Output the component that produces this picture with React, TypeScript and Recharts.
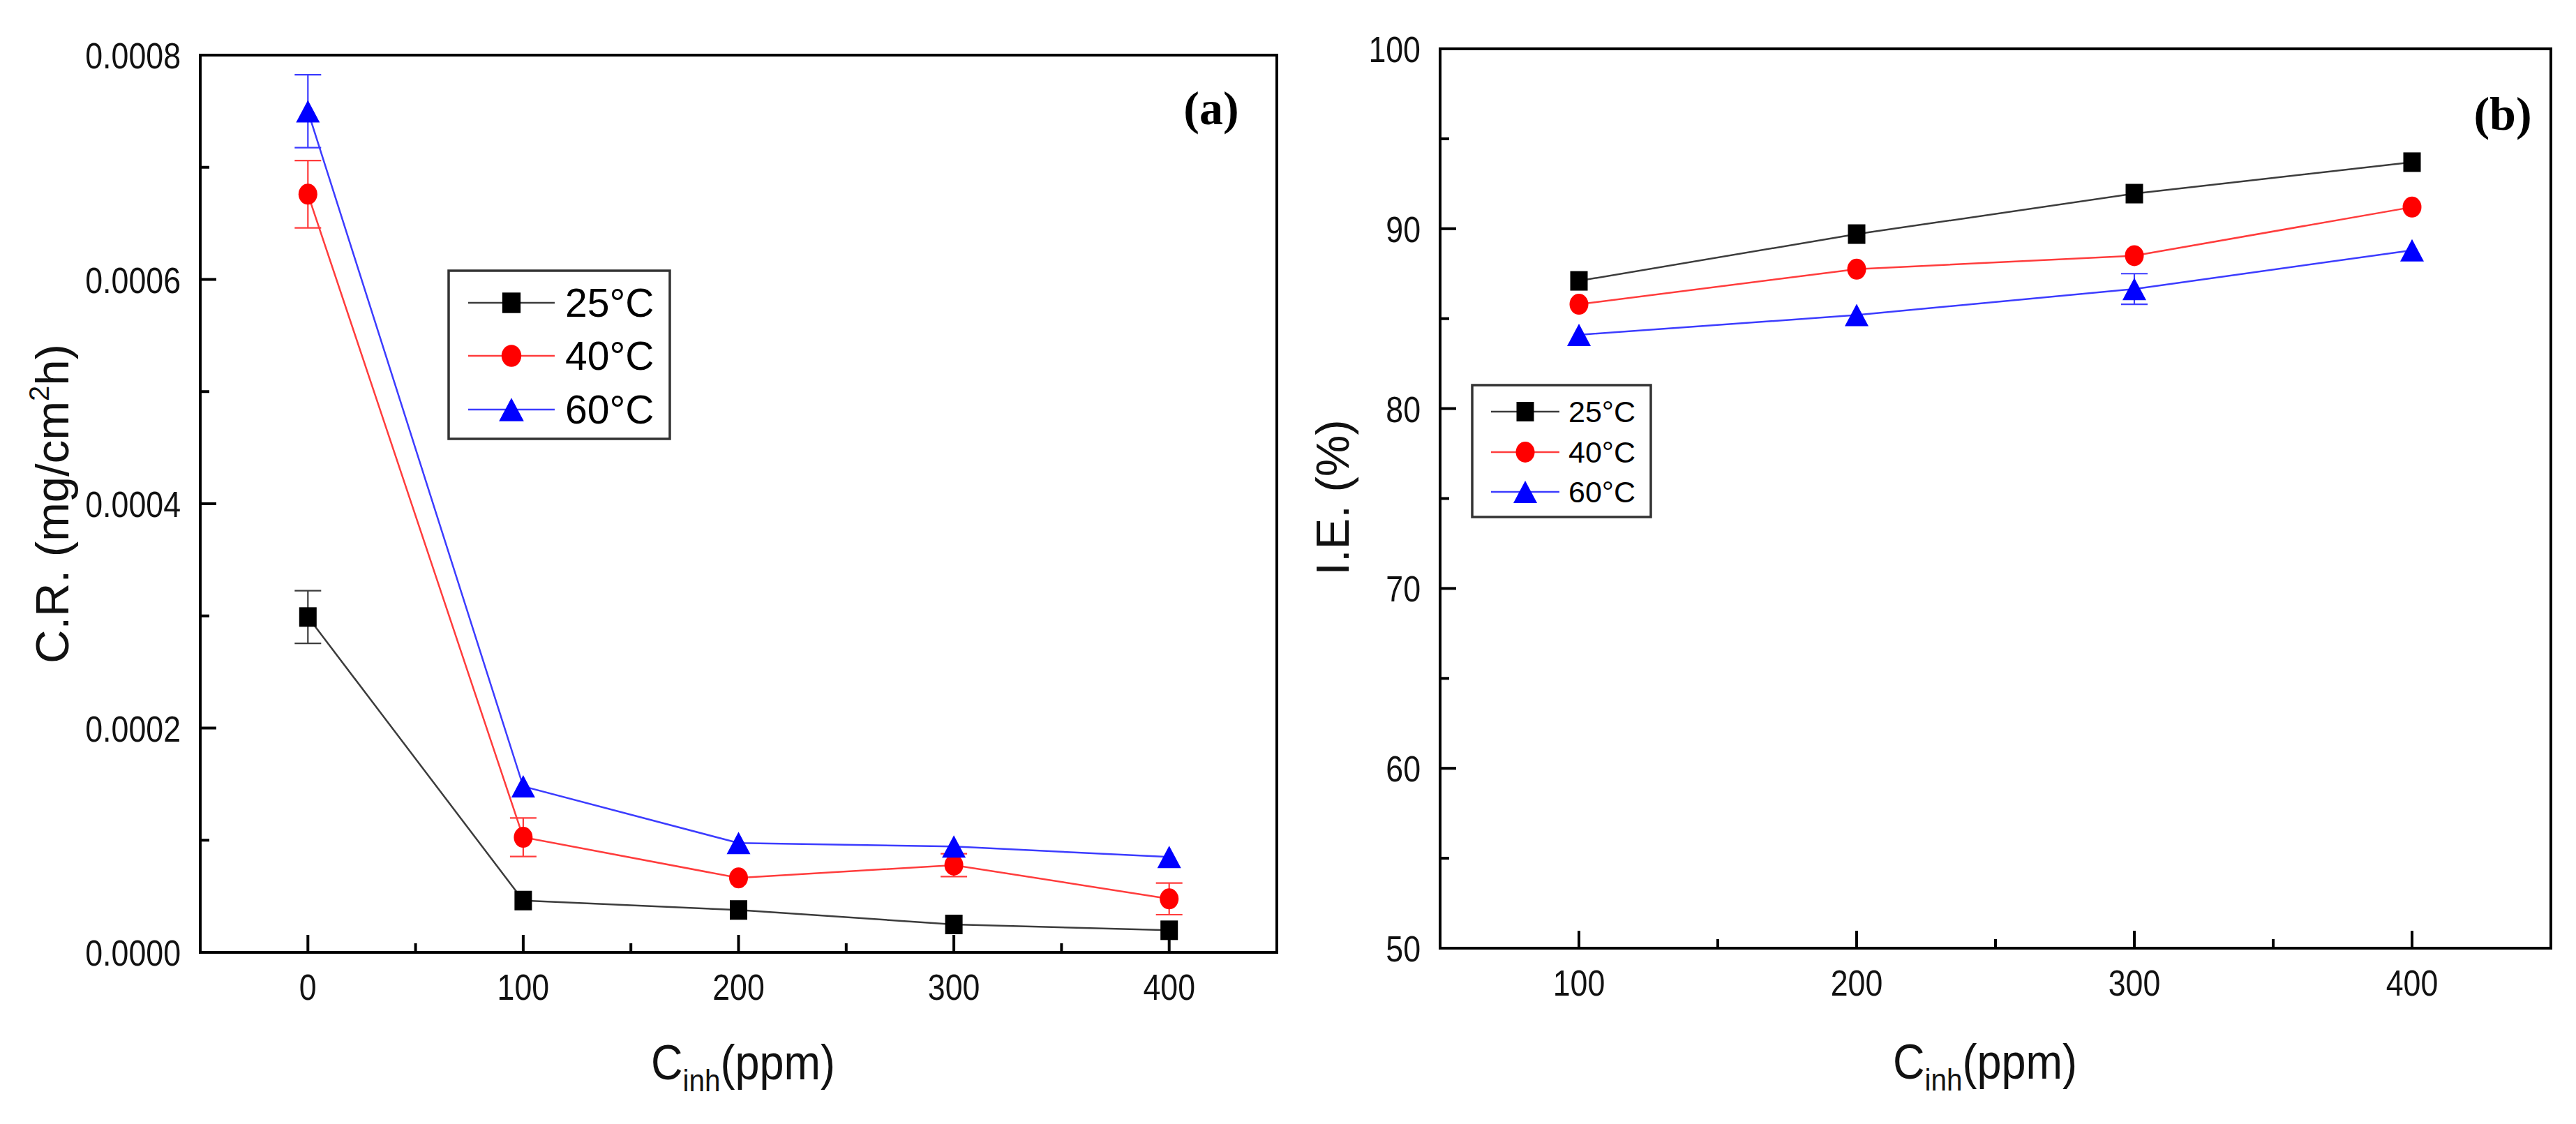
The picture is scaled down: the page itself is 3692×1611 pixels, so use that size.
import React from 'react';
import { LineChart, Line, XAxis, YAxis, ErrorBar, ReferenceArea, Legend, Customized } from 'recharts';

// ---------- Panel (a): corrosion rate ----------
const cinhA = [0, 100, 200, 300, 400];
const cr25 = [0.000299, 0.0000462, 0.0000378, 0.0000249, 0.0000197];
const cr25Err = [0.0000235, 0, 0, 0, 0];
const cr40 = [0.000676, 0.0001026, 0.0000664, 0.0000778, 0.0000477];
const cr40Err = [0.00003, 0.0000172, 0, 0.0000102, 0.0000141];
const cr60 = [0.00075, 0.000148, 0.0000975, 0.0000944, 0.000085];
const cr60Err = [0.0000325, 0, 0, 0, 0];

const crXMajor = [0, 100, 200, 300, 400];
const crXMinor = [50, 150, 250, 350];
const crYMajor = [0, 0.0002, 0.0004, 0.0006, 0.0008];
const crYMinor = [0.0001, 0.0003, 0.0005, 0.0007];

// ---------- Panel (b): inhibition efficiency ----------
const cinhB = [100, 200, 300, 400];
const ie25 = [87.1, 89.7, 91.95, 93.7];
const ie40 = [85.8, 87.75, 88.5, 91.2];
const ie60 = [84.1, 85.2, 86.65, 88.8];
const ie60Err = [0, 0, 0.85, 0];

const ieXMajor = [100, 200, 300, 400];
const ieXMinor = [150, 250, 350];
const ieYMajor = [50, 60, 70, 80, 90, 100];
const ieYMinor = [55, 65, 75, 85, 95];

const seriesNames = ['25°C', '40°C', '60°C'];
const markerKinds = ['square', 'circle', 'triangle'];
const markerColors = ['#000000', '#ff0000', '#0000ff'];
const lineColors = ['#3c3c3c', '#ff3c3c', '#3c3cff'];

const FONT = '"Liberation Sans", Arial, sans-serif';
const SERIF = '"Liberation Serif", "Times New Roman", serif';

const dataA = cinhA.map((x, i) => ({
  x,
  t25: cr25[i], e25: cr25Err[i],
  t40: cr40[i], e40: cr40Err[i],
  t60: cr60[i], e60: cr60Err[i],
}));

const dataB = cinhB.map((x, i) => ({
  x,
  t25: ie25[i],
  t40: ie40[i],
  t60: ie60[i], e60: ie60Err[i],
}));

const sortNum = (a: number[]) => [...a].sort((p, q) => p - q);
const isMajor = (majors: number[], v: number) => majors.some((m) => Math.abs(m - v) < 1e-9);

function Marker({ kind, cx, cy, color }: { kind: string; cx: number; cy: number; color: string }) {
  if (kind === 'square') {
    return <rect x={cx - 12.5} y={cy - 14} width={25} height={28} fill={color} />;
  }
  if (kind === 'circle') {
    return <ellipse cx={cx} cy={cy} rx={13.5} ry={15} fill={color} />;
  }
  const w = 34;
  const h = 32;
  return (
    <polygon
      points={`${cx},${cy - h / 2} ${cx + w / 2},${cy + h / 2} ${cx - w / 2},${cy + h / 2}`}
      fill={color}
    />
  );
}

const makeDot = (idx: number) => (props: any) => {
  const { cx, cy, index } = props;
  if (cx == null || cy == null) return <g key={`d-${idx}-${index}`} />;
  return (
    <g key={`d-${idx}-${index}`}>
      <Marker kind={markerKinds[idx]} cx={cx} cy={cy} color={markerColors[idx]} />
    </g>
  );
};

const makeXTick = (majors: number[], fmt: (v: number) => string) => (props: any) => {
  const { x, y, payload } = props;
  const v = payload.value;
  const major = isMajor(majors, v);
  return (
    <g>
      <line x1={x} y1={y} x2={x} y2={y - (major ? 25 : 13)} stroke="#000" strokeWidth={4} />
      {major && (
        <text
          transform={`translate(${x},${y + 68}) scale(0.86,1)`}
          textAnchor="middle"
          fontSize={52}
          fill="#111"
          fontFamily={FONT}
        >
          {fmt(v)}
        </text>
      )}
    </g>
  );
};

const makeYTick = (majors: number[], fmt: (v: number) => string) => (props: any) => {
  const { x, y, payload } = props;
  const v = payload.value;
  const major = isMajor(majors, v);
  return (
    <g>
      <line x1={x} y1={y} x2={x + (major ? 23 : 13)} y2={y} stroke="#000" strokeWidth={4} />
      {major && (
        <text
          transform={`translate(${x - 28},${y + 19}) scale(0.86,1)`}
          textAnchor="end"
          fontSize={52}
          fill="#111"
          fontFamily={FONT}
        >
          {fmt(v)}
        </text>
      )}
    </g>
  );
};

const makeLegend = (cfg: {
  w: number; h: number; rows: number[]; lx1: number; lx2: number; mx: number; tx: number; fs: number; scale: number;
}) => (props: any) => {
  const payload = props.payload || [];
  return (
    <svg width={cfg.w} height={cfg.h} style={{ display: 'block' }}>
      <rect x={2} y={2} width={cfg.w - 4} height={cfg.h - 4} fill="#fff" stroke="#333" strokeWidth={3.5} />
      {payload.map((entry: any, i: number) => {
        const cy = cfg.rows[i];
        return (
          <g key={`lg-${i}`}>
            <line x1={cfg.lx1} y1={cy} x2={cfg.lx2} y2={cy} stroke={lineColors[i]} strokeWidth={2.5} />
            <g transform={`translate(${cfg.mx},${cy}) scale(${cfg.scale})`}>
              <Marker kind={markerKinds[i]} cx={0} cy={0} color={markerColors[i]} />
            </g>
            <text x={cfg.tx} y={cy + cfg.fs * 0.358} fontSize={cfg.fs} fill="#000" fontFamily={FONT}>
              {entry.value}
            </text>
          </g>
        );
      })}
    </svg>
  );
};

const legendA = makeLegend({ w: 321, h: 245, rows: [48, 124, 201], lx1: 30, lx2: 154, mx: 92, tx: 169, fs: 57, scale: 1.05 });
const legendB = makeLegend({ w: 260, h: 193, rows: [40, 98, 155], lx1: 29, lx2: 127, mx: 78, tx: 140, fs: 43, scale: 1.0 });

const TitlesA = () => (
  <g>
    <text
      transform="translate(98,722) rotate(-90)"
      textAnchor="middle"
      fontSize={67}
      fill="#111"
      fontFamily={FONT}
    >
      <tspan>C.R. (mg/cm</tspan>
      <tspan fontSize={40} dy={-28}>2</tspan>
      <tspan dy={28}>h)</tspan>
    </text>
    <text
      transform="translate(1065,1547) scale(0.9,1)"
      textAnchor="middle"
      fontSize={70}
      fill="#111"
      fontFamily={FONT}
    >
      <tspan>C</tspan>
      <tspan fontSize={45} dy={17}>inh</tspan>
      <tspan dy={-17}>(ppm)</tspan>
    </text>
    <text x={1736} y={178} textAnchor="middle" fontSize={68} fontWeight="bold" fill="#000" fontFamily={SERIF}>
      (a)
    </text>
  </g>
);

const TitlesB = () => (
  <g>
    <text
      transform="translate(83,713) rotate(-90)"
      textAnchor="middle"
      fontSize={67}
      fill="#111"
      fontFamily={FONT}
    >
      I.E. (%)
    </text>
    <text
      transform="translate(995,1546) scale(0.9,1)"
      textAnchor="middle"
      fontSize={70}
      fill="#111"
      fontFamily={FONT}
    >
      <tspan>C</tspan>
      <tspan fontSize={45} dy={17}>inh</tspan>
      <tspan dy={-17}>(ppm)</tspan>
    </text>
    <text x={1737} y={186} textAnchor="middle" fontSize={68} fontWeight="bold" fill="#000" fontFamily={SERIF}>
      (b)
    </text>
  </g>
);

const keys = ['t25', 't40', 't60'];

export default function App() {
  return (
    <div style={{ position: 'relative', width: 3692, height: 1611, background: '#fff', fontFamily: FONT }}>
      <style>{`body{margin:0;background:#fff;}`}</style>

      <div style={{ position: 'absolute', left: 0, top: 0 }}>
        <LineChart width={1850} height={1611} data={dataA} margin={{ top: 79, right: 20, bottom: 0, left: 0 }}>
          <XAxis
            dataKey="x"
            type="number"
            domain={[-50, 450]}
            ticks={sortNum([...crXMajor, ...crXMinor])}
            interval={0}
            height={246}
            axisLine={false}
            tickLine={false}
            tickSize={0}
            tickMargin={0}
            tick={makeXTick(crXMajor, (v) => String(v))}
            allowDataOverflow
          />
          <YAxis
            type="number"
            domain={[0, 0.0008]}
            ticks={sortNum([...crYMajor, ...crYMinor])}
            interval={0}
            width={287}
            axisLine={false}
            tickLine={false}
            tickSize={0}
            tickMargin={0}
            tick={makeYTick(crYMajor, (v) => v.toFixed(4))}
            allowDataOverflow
          />
          <ReferenceArea x1={-50} x2={450} y1={0} y2={0.0008} fill="none" fillOpacity={0} stroke="#000" strokeWidth={4} ifOverflow="visible" />
          {keys.map((k, i) => (
            <Line
              key={k}
              dataKey={k}
              name={seriesNames[i]}
              type="linear"
              stroke={lineColors[i]}
              strokeWidth={2.5}
              dot={makeDot(i)}
              activeDot={false}
              isAnimationActive={false}
            >
              <ErrorBar dataKey={`e${k.slice(1)}`} width={19} stroke={lineColors[i]} strokeWidth={2.2} direction="y" />
            </Line>
          ))}
          <Legend
            layout="vertical"
            align="center"
            verticalAlign="middle"
            content={legendA}
            wrapperStyle={{ left: 641, top: 386, width: 321, height: 245 }}
          />
          <Customized component={TitlesA} />
        </LineChart>
      </div>

      <div style={{ position: 'absolute', left: 1850, top: 0 }}>
        <LineChart width={1842} height={1611} data={dataB} margin={{ top: 70, right: 36, bottom: 0, left: 0 }}>
          <XAxis
            dataKey="x"
            type="number"
            domain={[50, 450]}
            ticks={sortNum([...ieXMajor, ...ieXMinor])}
            interval={0}
            height={252}
            axisLine={false}
            tickLine={false}
            tickSize={0}
            tickMargin={0}
            tick={makeXTick(ieXMajor, (v) => String(v))}
            allowDataOverflow
          />
          <YAxis
            type="number"
            domain={[50, 100]}
            ticks={sortNum([...ieYMajor, ...ieYMinor])}
            interval={0}
            width={214}
            axisLine={false}
            tickLine={false}
            tickSize={0}
            tickMargin={0}
            tick={makeYTick(ieYMajor, (v) => String(v))}
            allowDataOverflow
          />
          <ReferenceArea x1={50} x2={450} y1={50} y2={100} fill="none" fillOpacity={0} stroke="#000" strokeWidth={4} ifOverflow="visible" />
          {keys.map((k, i) => (
            <Line
              key={k}
              dataKey={k}
              name={seriesNames[i]}
              type="linear"
              stroke={lineColors[i]}
              strokeWidth={2.5}
              dot={makeDot(i)}
              activeDot={false}
              isAnimationActive={false}
            >
              {k === 't60' ? (
                <ErrorBar dataKey="e60" width={19} stroke={lineColors[i]} strokeWidth={2.2} direction="y" />
              ) : null}
            </Line>
          ))}
          <Legend
            layout="vertical"
            align="center"
            verticalAlign="middle"
            content={legendB}
            wrapperStyle={{ left: 258, top: 550, width: 260, height: 193 }}
          />
          <Customized component={TitlesB} />
        </LineChart>
      </div>
    </div>
  );
}
